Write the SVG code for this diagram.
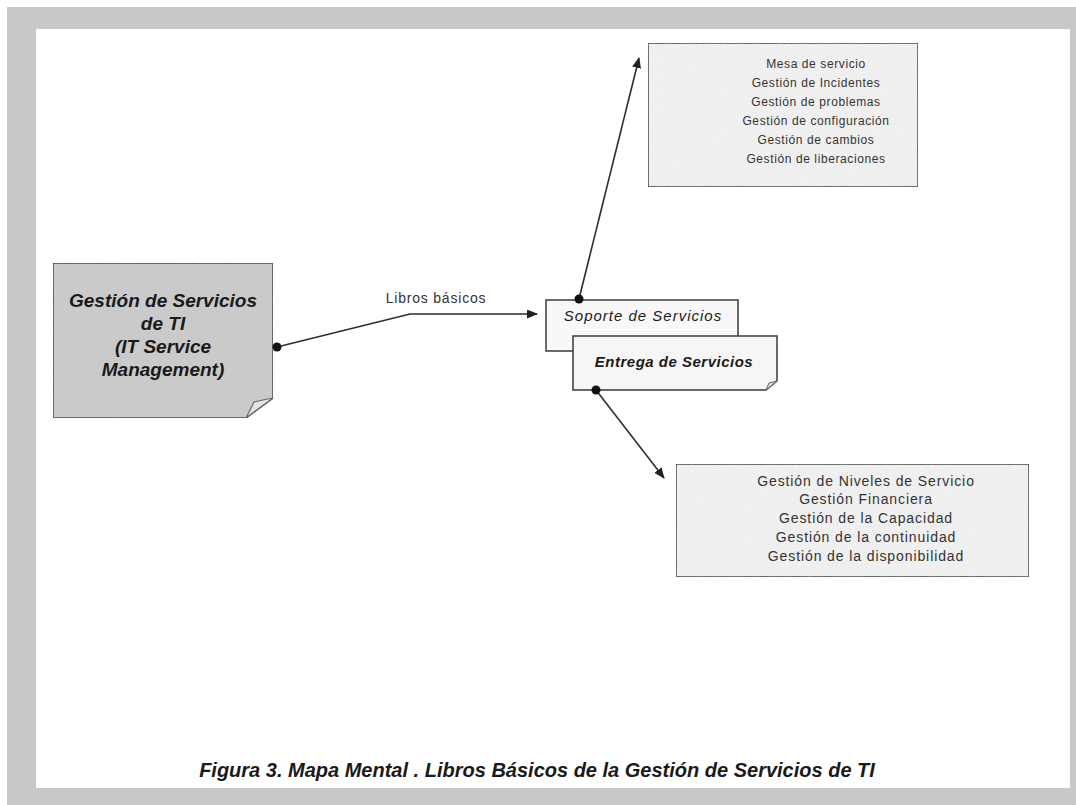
<svg xmlns="http://www.w3.org/2000/svg" width="1076" height="805" viewBox="0 0 1076 805">
  <style>
    .box { stroke: #3a3a3a; stroke-width: 1.5; }
    .conn { fill: none; stroke: #2e2e2e; stroke-width: 1.6; }
    .dot { fill: #111; }
    .list { font-family: "Liberation Sans", Arial, sans-serif; fill: #333; text-anchor: middle; }
    .title { font-family: "Liberation Sans", Arial, sans-serif; font-style: italic; fill: #1a1a1a; text-anchor: middle; }
  </style>
  <defs>
    <marker id="arrow" markerWidth="11" markerHeight="9" refX="10" refY="4.5" orient="auto" markerUnits="userSpaceOnUse">
      <path d="M0,0 L11,4.5 L0,9 Z" fill="#222"/>
    </marker>
    <filter id="grain" x="0" y="0" width="100%" height="100%">
      <feTurbulence type="fractalNoise" baseFrequency="0.9" numOctaves="2" seed="3" result="n"/>
      <feColorMatrix in="n" type="matrix" values="0 0 0 0 0.55  0 0 0 0 0.55  0 0 0 0 0.55  0 0 0 0.35 -0.1" result="s"/>
      <feComposite in="s" in2="SourceGraphic" operator="in" result="sc"/>
      <feMerge><feMergeNode in="SourceGraphic"/><feMergeNode in="sc"/></feMerge>
    </filter>
  </defs>

  <!-- frame -->
  <rect x="7" y="7" width="1069" height="798" fill="#c8c8c8"/>
  <rect x="36" y="29" width="1034" height="759" fill="#ffffff"/>

  <!-- connectors -->
  <g id="connectors">
    <polyline class="conn" points="277,347 410,314 537,314" marker-end="url(#arrow)"/>
    <line class="conn" x1="579" y1="299" x2="639" y2="58" marker-end="url(#arrow)"/>
    <line class="conn" x1="596" y1="390" x2="664" y2="478" marker-end="url(#arrow)"/>
    <text x="436" y="303" class="list" font-size="14" letter-spacing="0.8">Libros básicos</text>
  </g>

  <!-- main node -->
  <g id="node-main">
    <path class="box" d="M53,263 H273 V398 L246,418 H53 Z" fill="#cbcbcb" stroke="#5a5a5a" filter="url(#grain)"/>
    <path d="M246,418 L254,402 Q262,400 273,398 Z" fill="#e4e4e4" stroke="#6a6a6a" stroke-width="1.2"/>
    <g class="title" font-size="19" font-weight="bold" fill="#222">
      <text x="163" y="307">Gestión de Servicios</text>
      <text x="163" y="330">de TI</text>
      <text x="163" y="353">(IT Service</text>
      <text x="163" y="376">Management)</text>
    </g>
  </g>

  <!-- Soporte de Servicios -->
  <g id="node-soporte">
    <rect class="box" x="546" y="300" width="192" height="51" fill="#f8f8f8"/>
    <text x="643" y="321" class="title" font-size="15" letter-spacing="1">Soporte de Servicios</text>
  </g>

  <!-- Entrega de Servicios -->
  <g id="node-entrega">
    <path class="box" d="M573,336 H777 V381 L766,390 H573 Z" fill="#f6f6f6"/>
    <path d="M766,390 L769,383 L777,381 Z" fill="#dcdcdc" stroke="#666" stroke-width="1"/>
    <text x="674" y="367" class="title" font-size="15" font-weight="bold" letter-spacing="0.5">Entrega de Servicios</text>
  </g>

  <!-- dots -->
  <g id="dots">
    <circle class="dot" cx="277" cy="347" r="4.5"/>
    <circle class="dot" cx="579" cy="299" r="4.5"/>
    <circle class="dot" cx="596" cy="390" r="4.5"/>
  </g>

  <!-- top list -->
  <g id="node-soporte-list">
    <rect class="box" x="648" y="43" width="270" height="144" fill="#f3f3f3" filter="url(#grain)"/>
    <g class="list" font-size="12" letter-spacing="0.6">
      <text x="816" y="68">Mesa de servicio</text>
      <text x="816" y="87">Gestión de Incidentes</text>
      <text x="816" y="106">Gestión de problemas</text>
      <text x="816" y="125">Gestión de configuración</text>
      <text x="816" y="144">Gestión de cambios</text>
      <text x="816" y="163">Gestión de liberaciones</text>
    </g>
  </g>

  <!-- bottom list -->
  <g id="node-entrega-list">
    <rect class="box" x="676" y="464" width="353" height="113" fill="#f3f3f3" filter="url(#grain)"/>
    <g class="list" font-size="14" letter-spacing="0.9">
      <text x="866" y="486">Gestión de Niveles de Servicio</text>
      <text x="866" y="504">Gestión Financiera</text>
      <text x="866" y="523">Gestión de la Capacidad</text>
      <text x="866" y="542">Gestión de la continuidad</text>
      <text x="866" y="561">Gestión de la disponibilidad</text>
    </g>
  </g>

  <!-- caption -->
  <text x="537" y="777" class="title" font-size="20" font-weight="bold" fill="#111">Figura 3. Mapa Mental . Libros Básicos de la Gestión de Servicios de TI</text>
</svg>
